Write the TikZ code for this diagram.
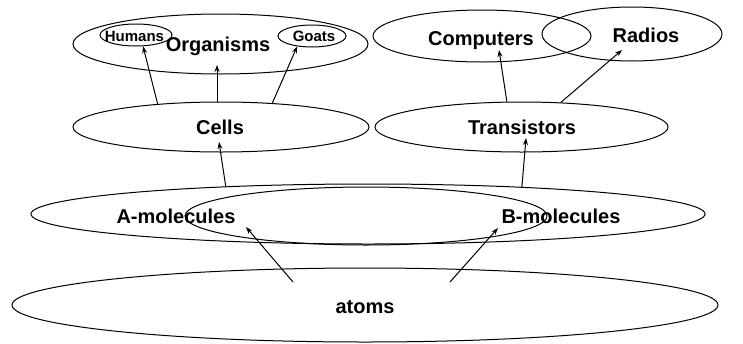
\documentclass[tikz,border=0pt]{standalone}
\usepackage{fontspec}
\setmainfont{Liberation Sans}
\usetikzlibrary{shapes.geometric,arrows.meta}

\tikzset{
  oval/.style={draw, ellipse, line width=1pt, inner sep=0pt},
  bigtext/.style={anchor=base, inner sep=0pt, font=\fontsize{20}{24}\selectfont\bfseries},
  smalltext/.style={anchor=base, inner sep=0pt, font=\fontsize{15}{18}\selectfont\bfseries},
  link/.style={line width=1pt, -{Stealth[length=7pt,width=5pt]}},
}

\newcommand{\setoval}[5]{% name, cx, cy, rx, ry
  \node[oval, minimum width=#4*2pt, minimum height=#5*2pt] (#1) at (#2,#3) {};}

\begin{document}
\begin{tikzpicture}[x=1pt, y=-1pt]
  \useasboundingbox (0,0) rectangle (743,343);

  % top level
  \setoval{organisms}{220.5}{44}{147.5}{30}
  \setoval{humans}{136}{35}{36}{11}
  \setoval{goats}{312}{36}{34}{11}
  \setoval{computers}{482}{36}{109}{26}
  \setoval{radios}{632}{34}{90}{27}

  % middle level
  \setoval{cells}{221}{127}{148}{25}
  \setoval{transistors}{521.5}{127}{146.5}{25}

  % molecules
  \setoval{molwide}{368}{214}{337}{30}
  \setoval{molnarrow}{366}{216}{181}{29}

  % atoms
  \setoval{atoms}{365}{305}{353}{37}

  % labels
  \node[smalltext] (humansT) at (134.5,41) {Humans};
  \node[smalltext] (goatsT) at (314,41) {Goats};
  \node[bigtext] (organismsT) at (218,51) {Organisms};
  \node[bigtext] (computersT) at (481,45) {Computers};
  \node[bigtext] (radiosT) at (646,42) {Radios};
  \node[bigtext] (cellsT) at (220,134) {Cells};
  \node[bigtext] (transistorsT) at (522,134) {Transistors};
  \node[bigtext] (amolT) at (176,223) {A-molecules};
  \node[bigtext] (bmolT) at (561,223) {B-molecules};
  \node[bigtext] (atomsT) at (365,313) {atoms};

  % arrow ends that lie inside the ovals
  \coordinate (cellsTop) at (217,102);
  \coordinate (orgTip) at (217,65);
  \coordinate (compTip) at (499,50);
  \coordinate (radTip) at (622,50);
  \coordinate (cellsTip) at (219,142);
  \coordinate (transTip) at (526,138);
  \coordinate (atomsL) at (293,282);
  \coordinate (atomsR) at (450,282);
  \coordinate (amolTip) at (246,227);
  \coordinate (bmolTip) at (498,228);

  % connectors
  \draw[link] (cells.160) -- (humans.-58);
  \draw[link] (cellsTop) -- (orgTip);
  \draw[link] (cells.25) -- (goats.215);
  \draw[link] (transistors.120) -- (compTip);
  \draw[link] (transistors.32) -- (radTip);
  \draw[link] (molwide.169) -- (cellsTip);
  \draw[link] (molwide.10) -- (transTip);
  \draw[link] (atomsL) -- (amolTip);
  \draw[link] (atomsR) -- (bmolTip);
\end{tikzpicture}
\end{document}
